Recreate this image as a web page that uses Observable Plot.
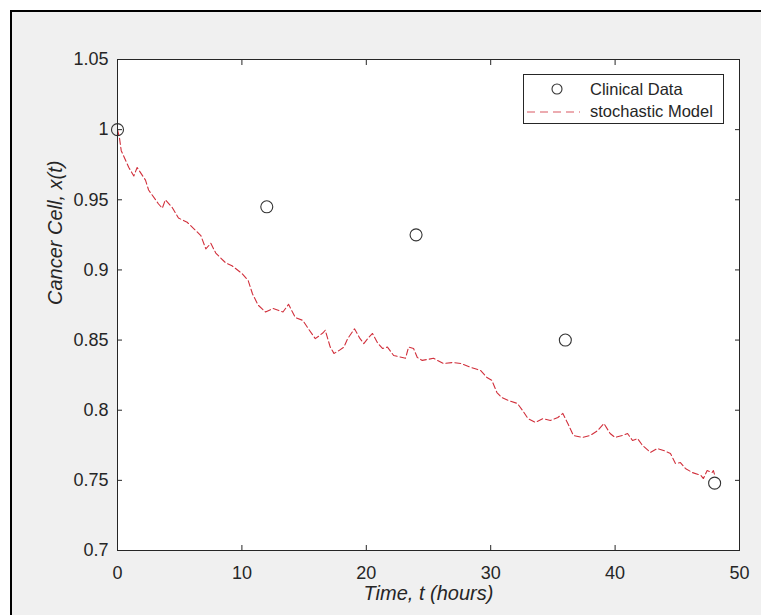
<!DOCTYPE html>
<html><head><meta charset="utf-8">
<script src="https://cdn.jsdelivr.net/npm/d3@7"></script>
<script src="https://cdn.jsdelivr.net/npm/@observablehq/plot@0.6"></script>
<style>
body{margin:0;background:#fff;width:761px;height:615px;overflow:hidden;position:relative;font-family:"Liberation Sans",Arial,sans-serif;}
#fig{position:absolute;left:10px;top:10px;width:800px;height:700px;background:#f0f0f0;border-left:2px solid #000;border-top:2px solid #000;}
#chart{position:absolute;left:0;top:0;}
#legend{position:absolute;left:523px;top:74px;width:199px;height:48px;background:#fff;border:1px solid #262626;}
#legend svg{display:block;}
</style></head>
<body>
<div id="fig"></div>
<div id="chart"></div>
<div id="legend"></div>
<script>
const clinicalT = [0, 12, 24, 36, 48];
const clinicalX = [1.0, 0.945, 0.925, 0.85, 0.748];

const modelT = [0,0.16,0.3,0.91,1.31,1.58,2.25,2.5,3.3,3.6,3.85,4.4,4.9,5.6,6.3,6.7,7.1,7.5,7.9,8.7,9.2,10.0,10.5,10.85,11.3,11.9,12.5,13.3,13.75,14.3,14.9,15.35,15.9,16.5,16.7,17.1,17.4,17.8,18.2,18.5,19.05,19.5,19.8,20.2,20.5,20.9,21.3,21.7,22.2,22.9,23.15,23.4,23.8,24.1,24.5,25.4,26.2,27.0,27.6,28.4,29.2,29.7,30.1,30.5,30.9,31.4,32.15,32.55,33.0,33.6,34.2,34.8,35.4,35.8,36.2,36.65,37.4,38.0,38.6,39.1,39.6,40.0,40.6,41.0,41.4,41.8,42.2,42.85,43.4,43.9,44.45,44.85,45.25,45.65,46.2,46.9,47.1,47.4,47.8,47.9,48.0];
const modelX = [1.000,0.994,0.985,0.973,0.967,0.973,0.964,0.957,0.947,0.944,0.950,0.9445,0.937,0.934,0.928,0.9245,0.915,0.919,0.912,0.905,0.903,0.8975,0.8925,0.883,0.875,0.870,0.8725,0.870,0.8755,0.866,0.864,0.858,0.851,0.855,0.857,0.845,0.8405,0.8425,0.845,0.851,0.858,0.851,0.8475,0.852,0.8547,0.848,0.844,0.845,0.839,0.8376,0.837,0.845,0.844,0.8376,0.8355,0.837,0.8333,0.834,0.8333,0.8305,0.8283,0.8233,0.8212,0.8126,0.809,0.807,0.8048,0.800,0.794,0.7913,0.794,0.7927,0.7948,0.7977,0.7905,0.782,0.7806,0.782,0.7855,0.7905,0.7834,0.7806,0.782,0.7834,0.7784,0.7798,0.7749,0.7699,0.7727,0.7713,0.7692,0.762,0.7627,0.7585,0.7556,0.7535,0.7513,0.757,0.7556,0.757,0.754];

const xTicks = [0, 10, 20, 30, 40, 50];
const yTicks = [0.7, 0.75, 0.8, 0.85, 0.9, 0.95, 1.0, 1.05];
const xLabel = "Time, t (hours)";
const yLabel = "Cancer Cell, x(t)";
const legendLabels = ["Clinical Data", "stochastic Model"];

const clinical = clinicalT.map((t, i) => ({t, v: clinicalX[i]}));
const model = modelT.map((t, i) => ({t, v: modelX[i]}));

const RED = "#d1303c";
const INK = "#262626";
const fmt = d => String(+d.toFixed(2));
const blank = () => "";

const chart = Plot.plot({
  width: 761, height: 615,
  marginLeft: 117, marginRight: 22, marginTop: 59, marginBottom: 65,
  style: {background: "transparent", fontFamily: "'Liberation Sans', Arial, sans-serif", fontSize: "18px", color: INK, overflow: "visible"},
  x: {domain: [0, 50]},
  y: {domain: [0.7, 1.05]},
  marks: [
    Plot.frame({fill: "white"}),
    Plot.line(model, {x: "t", y: "v", stroke: RED, strokeWidth: 1.1, strokeDasharray: "6,3"}),
    Plot.dot(clinical, {x: "t", y: "v", r: 6, stroke: "#333", strokeWidth: 1.1, fill: "none"}),
    Plot.frame({stroke: INK, strokeWidth: 1}),
    Plot.axisX(xTicks, {anchor: "bottom", tickSize: 0, tickPadding: 16, tickFormat: fmt, label: null}),
    Plot.axisX(xTicks, {anchor: "bottom", tickSize: -5, tickFormat: blank, label: null}),
    Plot.axisX(xTicks, {anchor: "top", tickSize: -5, tickFormat: blank, label: null}),
    Plot.axisY(yTicks, {anchor: "left", tickSize: 0, tickPadding: 9, tickFormat: fmt, label: null}),
    Plot.axisY(yTicks, {anchor: "left", tickSize: -5, tickFormat: blank, label: null}),
    Plot.axisY(yTicks, {anchor: "right", tickSize: -5, tickFormat: blank, label: null}),
    Plot.text([xLabel], {text: d => d, frameAnchor: "bottom", dy: 49, fontStyle: "italic", fontSize: 20, fill: INK}),
    Plot.text([yLabel], {text: d => d, frameAnchor: "left", dx: -62, rotate: -90, fontStyle: "italic", fontSize: 20, fill: INK})
  ]
});
document.getElementById("chart").appendChild(chart);

// legend
const lg = d3.select("#legend").append("svg").attr("width", 199).attr("height", 48)
  .style("font-family", "'Liberation Sans', Arial, sans-serif").style("font-size", "16.5px");
lg.append("circle").attr("cx", 33).attr("cy", 14).attr("r", 5).attr("fill", "none").attr("stroke", "#333").attr("stroke-width", 1.1);
lg.append("line").attr("x1", 3).attr("x2", 56).attr("y1", 37).attr("y2", 37).attr("stroke", RED).attr("stroke-width", 1.1).attr("stroke-dasharray", "8,5").attr("opacity", 0.8);
lg.selectAll("text").data(legendLabels).join("text")
  .attr("x", 66).attr("y", (d, i) => i === 0 ? 20 : 42).attr("fill", INK).text(d => d);
</script>
</body></html>
